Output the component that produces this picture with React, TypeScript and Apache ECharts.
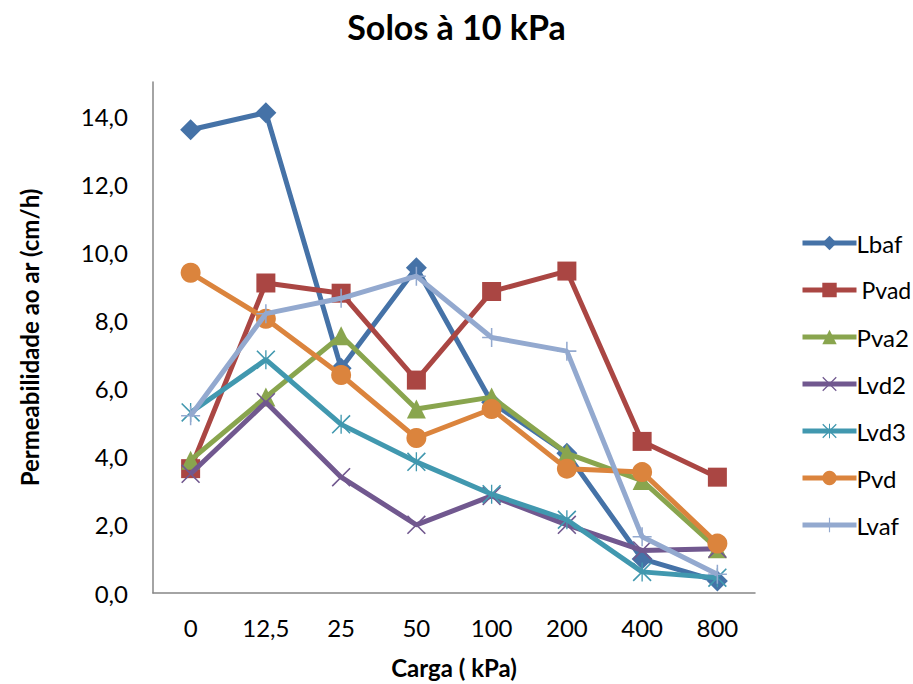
import React, { useEffect, useRef } from "react";
import * as echarts from "echarts";

const categories = ["0", "12,5", "25", "50", "100", "200", "400", "800"];
const seriesNames = ["Lbaf", "Pvad", "Pva2", "Lvd2", "Lvd3", "Pvd", "Lvaf"];
const lbaf = [13.6, 14.1, 6.6, 9.55, 5.6, 4.1, 1.0, 0.35];
const pvad = [3.65, 9.1, 8.8, 6.25, 8.85, 9.45, 4.45, 3.4];
const pva2 = [3.9, 5.75, 7.55, 5.4, 5.75, 4.1, 3.3, 1.3];
const lvd2 = [3.5, 5.6, 3.4, 2.0, 2.85, 2.0, 1.25, 1.3];
const lvd3 = [5.3, 6.85, 4.95, 3.85, 2.9, 2.15, 0.62, 0.45];
const pvd = [9.4, 8.05, 6.4, 4.55, 5.4, 3.65, 3.55, 1.45];
const lvaf = [5.2, 8.2, 8.65, 9.3, 7.5, 7.1, 1.65, 0.55];
const seriesValues = [lbaf, pvad, pva2, lvd2, lvd3, pvd, lvaf];

const colors = ["#4572A7", "#AA4643", "#89A54E", "#71588F", "#4198AF", "#DB843D", "#93A9CF"];

const X_PATH =
  "path://M0,1.2 L1.2,0 L20,18.8 L18.8,20 Z M18.8,0 L20,1.2 L1.2,20 L0,18.8 Z";
const STAR_PATH =
  "path://M0,1.2 L1.2,0 L20,18.8 L18.8,20 Z M18.8,0 L20,1.2 L1.2,20 L0,18.8 Z M9.3,0 L10.7,0 L10.7,20 L9.3,20 Z";
const PLUS_PATH = "path://M9.2,0 L10.8,0 L10.8,20 L9.2,20 Z M0,9.2 L20,9.2 L20,10.8 L0,10.8 Z";

const symbols = ["diamond", "rect", "triangle", X_PATH, STAR_PATH, "circle", PLUS_PATH];
const symbolSizes = [21, 19, 19, 19, 19, 20, 19];

const FONT = "Lato, 'Liberation Sans', sans-serif";

export default function App() {
  const ref = useRef<HTMLDivElement>(null);
  useEffect(() => {
    document.body.style.margin = "0";
    if (!ref.current) return;
    const chart = echarts.init(ref.current, null, { renderer: "svg" });
    chart.setOption({
      animation: false,
      backgroundColor: "#ffffff",
      textStyle: { fontFamily: FONT },
      title: {
        text: "Solos à 10 kPa",
        left: "center",
        top: 4,
        textStyle: { fontFamily: FONT, fontSize: 34, fontWeight: "bold", color: "#000" },
      },
      legend: {
        orient: "vertical",
        left: 795,
        top: 226,
        itemWidth: 54,
        itemHeight: 18,
        itemGap: 23,
        data: seriesNames,
        lineStyle: { width: 5 },
        formatter: (n: string) => (n === "Pvad" ? "{p|" + n + "}" : n),
        textStyle: {
          fontFamily: FONT,
          fontSize: 24,
          color: "#000",
          lineHeight: 24,
          padding: [0, 0, 0, -5],
          rich: { p: { fontFamily: FONT, fontSize: 23, color: "#000", padding: [0, 0, 0, 5] } },
        },
      },
      grid: { left: 153, right: 158, top: 82, bottom: 91, containLabel: false },
      xAxis: {
        type: "category",
        data: categories,
        boundaryGap: true,
        name: "Carga ( kPa)",
        nameLocation: "middle",
        nameGap: 62,
        nameTextStyle: { fontFamily: FONT, fontSize: 24, fontWeight: "bold", color: "#000" },
        axisLine: { lineStyle: { color: "#868686", width: 1.5 } },
        axisTick: { show: false },
        axisLabel: { margin: 22, fontFamily: FONT, fontSize: 24, color: "#000" },
        splitLine: { show: false },
      },
      yAxis: {
        type: "value",
        min: 0,
        max: 15,
        interval: 2,
        name: "Permeabilidade ao ar (cm/h)",
        nameLocation: "middle",
        nameGap: 112,
        nameTextStyle: { fontFamily: FONT, fontSize: 24, fontWeight: "bold", color: "#000" },
        axisLine: { show: true, lineStyle: { color: "#868686", width: 1.5 } },
        axisTick: { show: false },
        splitLine: { show: false },
        axisLabel: {
          margin: 25,
          showMaxLabel: false,
          fontFamily: FONT,
          fontSize: 24,
          color: "#000",
          formatter: (v: number) => v.toFixed(1).replace(".", ","),
        },
      },
      series: seriesNames.map((name, i) => ({
        name,
        type: "line",
        data: seriesValues[i],
        symbol: symbols[i],
        symbolSize: symbolSizes[i],
        showAllSymbol: true,
        lineStyle: { color: colors[i], width: 5 },
        itemStyle: { color: colors[i], borderWidth: 0 },
        z: 2 + i,
      })),
    });
    return () => chart.dispose();
  }, []);
  return <div ref={ref} style={{ width: 913, height: 684 }} />;
}
